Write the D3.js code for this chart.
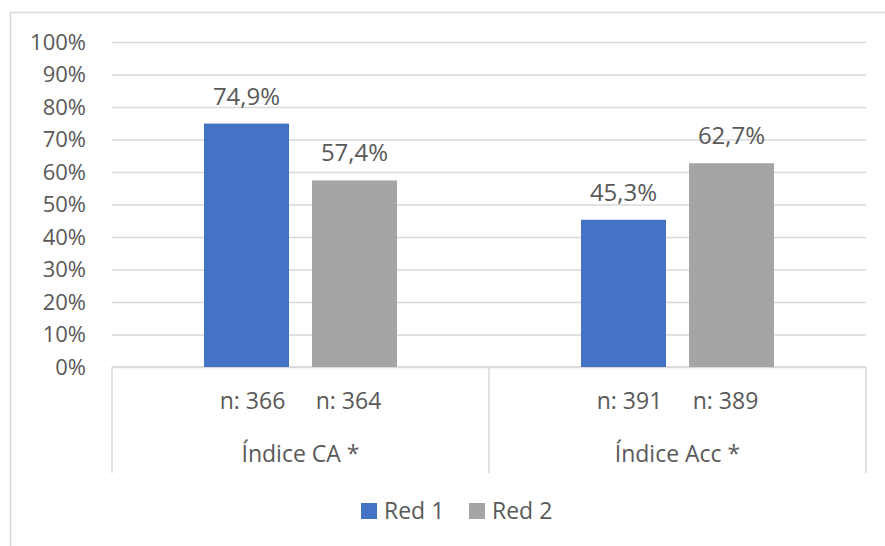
<!DOCTYPE html>
<html>
<head>
<meta charset="utf-8">
<script src="https://cdn.jsdelivr.net/npm/d3@7"></script>
<style>
  html, body { margin: 0; padding: 0; background: #fff; }
  svg { display: block; }
  text { font-family: "Open Sans", sans-serif; fill: #595959; }
</style>
</head>
<body>
<svg id="chart" width="885" height="546"></svg>
<script>
const categories = ["Índice CA *", "Índice Acc *"];
const series = ["Red 1", "Red 2"];
const red1Values = [0.749, 0.453];
const red2Values = [0.574, 0.627];
const red1Labels = ["74,9%", "45,3%"];
const red2Labels = ["57,4%", "62,7%"];
const red1N = ["n: 366", "n: 391"];
const red2N = ["n: 364", "n: 389"];
const yTicks = [0, 0.1, 0.2, 0.3, 0.4, 0.5, 0.6, 0.7, 0.8, 0.9, 1.0];
const colors = ["#4472C4", "#A5A5A5"];

const svg = d3.select("#chart");
const gridColor = "#D9D9D9";

// outer chart frame
svg.append("rect")
  .attr("x", 10.5).attr("y", 12.5)
  .attr("width", 1000).attr("height", 1000)
  .attr("fill", "none").attr("stroke", gridColor).attr("stroke-width", 1.5);

const plotLeft = 112, plotRight = 866, plotTop = 42, plotBottom = 367;

const y = d3.scaleLinear().domain([0, 1]).range([plotBottom, plotTop]);
const x0 = d3.scaleBand().domain(categories).range([plotLeft, plotRight]).padding(0);
const x1 = d3.scaleBand().domain(series).range([0, x0.bandwidth()])
  .paddingInner(0.213).paddingOuter(0.852);

// y axis with gridlines
const yAxis = d3.axisLeft(y)
  .tickValues(yTicks)
  .tickFormat(d => Math.round(d * 100) + "%")
  .tickSizeInner(-(plotRight - plotLeft))
  .tickSizeOuter(0)
  .tickPadding(26);
const gy = svg.append("g").attr("transform", `translate(${plotLeft},0)`).call(yAxis);
gy.select(".domain").remove();
gy.selectAll(".tick line").attr("stroke", gridColor).attr("stroke-width", 1.5);
gy.selectAll(".tick text")
  .attr("fill", "#595959")
  .style("font-family", '"Open Sans", sans-serif')
  .style("font-size", "22px");

// category axis "table" lines
const boundaries = [plotLeft].concat(categories.map(c => x0(c) + x0.bandwidth()));
svg.append("g").selectAll("line").data(boundaries).join("line")
  .attr("x1", d => d).attr("x2", d => d)
  .attr("y1", plotBottom).attr("y2", 473)
  .attr("stroke", gridColor).attr("stroke-width", 1.5);
svg.append("line")
  .attr("x1", plotLeft).attr("x2", plotRight)
  .attr("y1", plotBottom).attr("y2", plotBottom)
  .attr("stroke", gridColor).attr("stroke-width", 1.5);

// bars
const rows = categories.map((c, i) => ({
  cat: c,
  vals: [
    { s: series[0], v: red1Values[i], label: red1Labels[i], n: red1N[i] },
    { s: series[1], v: red2Values[i], label: red2Labels[i], n: red2N[i] }
  ]
}));

const groups = svg.append("g").selectAll("g").data(rows).join("g")
  .attr("transform", d => `translate(${x0(d.cat)},0)`);

groups.selectAll("rect").data(d => d.vals).join("rect")
  .attr("x", d => x1(d.s))
  .attr("width", x1.bandwidth())
  .attr("y", d => y(d.v))
  .attr("height", d => y(0) - y(d.v))
  .attr("fill", (d, i) => colors[i]);

groups.selectAll("text.val").data(d => d.vals).join("text")
  .attr("class", "val")
  .attr("x", d => x1(d.s) + x1.bandwidth() / 2)
  .attr("y", d => y(d.v) - 19)
  .attr("text-anchor", "middle")
  .style("font-size", "24px")
  .text(d => d.label);

// n labels (first level category)
groups.selectAll("text.n").data(d => d.vals).join("text")
  .attr("class", "n")
  .attr("x", (d, i) => x0.bandwidth() / 2 + (i === 0 ? -48 : 48))
  .attr("y", 409)
  .attr("text-anchor", "middle")
  .style("font-size", "23px")
  .text(d => d.n);

// category labels
groups.append("text")
  .attr("x", x0.bandwidth() / 2)
  .attr("y", 462)
  .attr("text-anchor", "middle")
  .style("font-size", "23px")
  .text(d => d.cat);

// legend
const legendItems = [
  { s: series[0], c: colors[0], x: 361 },
  { s: series[1], c: colors[1], x: 469 }
];
const lg = svg.append("g").selectAll("g").data(legendItems).join("g")
  .attr("transform", d => `translate(${d.x},0)`);
lg.append("rect").attr("x", 0).attr("y", 503).attr("width", 16).attr("height", 16)
  .attr("fill", d => d.c);
lg.append("text").attr("x", 23).attr("y", 519)
  .style("font-size", "23px")
  .text(d => d.s);
</script>
</body>
</html>
